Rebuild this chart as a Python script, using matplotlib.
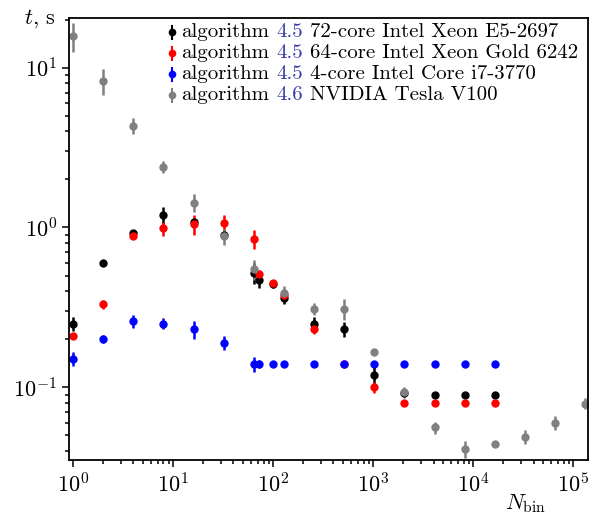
import numpy as np
import matplotlib
matplotlib.use("Agg")
import matplotlib.pyplot as plt
from matplotlib.lines import Line2D
from matplotlib.offsetbox import AnchoredOffsetbox, HPacker, VPacker, TextArea, DrawingArea

plt.rcParams['font.family'] = ['cmr10', 'DejaVu Serif']
plt.rcParams['mathtext.fontset'] = 'cm'
plt.rcParams['axes.formatter.use_mathtext'] = True

# data: bins vs time (s)
x_black = [1, 2, 4, 8, 16, 32, 64, 72, 100, 128, 256, 512, 1024, 2048, 4096, 8192, 16384]
t_black = [0.25, 0.6, 0.92, 1.2, 1.09, 0.9, 0.52, 0.47, 0.44, 0.36, 0.25, 0.23, 0.12, 0.092, 0.089, 0.089, 0.089]
e_black = [0.025, 0.03, 0.02, 0.15, 0.06, 0.04, 0.08, 0.05, 0.02, 0.03, 0.025, 0.025, 0.015, 0.004, 0.002, 0.002, 0.002]

x_red = [1, 2, 4, 8, 16, 32, 64, 72, 100, 128, 256, 512, 1024, 2048, 4096, 8192, 16384]
t_red = [0.21, 0.33, 0.88, 0.99, 1.05, 1.07, 0.85, 0.51, 0.45, 0.38, 0.23, 0.14, 0.1, 0.08, 0.08, 0.08, 0.08]
e_red = [0.01, 0.02, 0.03, 0.1, 0.15, 0.12, 0.12, 0.03, 0.02, 0.03, 0.015, 0.004, 0.008, 0.003, 0.003, 0.003, 0.003]

x_blue = [1, 2, 4, 8, 16, 32, 64, 72, 100, 128, 256, 512, 1024, 2048, 4096, 8192, 16384]
t_blue = [0.15, 0.2, 0.26, 0.25, 0.23, 0.19, 0.14, 0.14, 0.14, 0.14, 0.14, 0.14, 0.14, 0.14, 0.14, 0.14, 0.14]
e_blue = [0.015, 0.012, 0.025, 0.02, 0.03, 0.02, 0.015, 0.008, 0.003, 0.003, 0.003, 0.003, 0.003, 0.003, 0.003, 0.003, 0.003]

x_gray = [1, 2, 4, 8, 16, 32, 64, 128, 256, 512, 1024, 2048, 4096, 8192, 16384, 32768, 65536, 131072]
t_gray = [15.8, 8.3, 4.34, 2.4, 1.43, 0.88, 0.55, 0.39, 0.31, 0.31, 0.165, 0.093, 0.056, 0.041, 0.044, 0.049, 0.06, 0.079]
e_gray = [3.2, 1.5, 0.5, 0.2, 0.18, 0.1, 0.08, 0.04, 0.025, 0.045, 0.005, 0.008, 0.005, 0.005, 0.002, 0.005, 0.006, 0.006]

series = [
    (x_black, t_black, e_black, 'black', '4.5', '72-core Intel Xeon E5-2697'),
    (x_red, t_red, e_red, 'red', '4.5', '64-core Intel Xeon Gold 6242'),
    (x_blue, t_blue, e_blue, 'blue', '4.5', '4-core Intel Core i7-3770'),
    (x_gray, t_gray, e_gray, 'grey', '4.6', 'NVIDIA Tesla V100'),
]
num_color = '#3838a8'

fig = plt.figure(figsize=(5.9, 5.21), dpi=100)
ax = fig.add_axes([0.117, 0.117, 0.8796, 0.8485])

for xs, ts, es, c, ver, name in series:
    ax.errorbar(xs, ts, yerr=es, fmt='o', color=c, ms=5, elinewidth=1.8, capsize=0)

ax.set_xscale('log')
ax.set_yscale('log')
ax.set_xlim(0.91, 1.4e5)
ax.set_ylim(0.035, 20.5)

for s in ax.spines.values():
    s.set_linewidth(1.3)
ax.tick_params(which='both', direction='out', labelsize=16, width=1.1)
ax.tick_params(which='major', length=5)
ax.tick_params(which='minor', length=3)

fig.text(56 / 590, 1 - 24 / 521, r'$t$, s', fontsize=16, ha='right', va='baseline')
ax.text(0.879, -0.072, r'$N_{\rm bin}$', transform=ax.transAxes, fontsize=16, ha='center', va='top')

# legend with coloured version numbers
rows = []
for xs, ts, es, c, ver, name in series:
    da = DrawingArea(6, 10, 0, 0)
    da.add_artist(Line2D([3, 3], [0.5, 9.5], color=c, lw=1.5))
    da.add_artist(Line2D([3], [5], marker='o', ms=4.5, color=c))
    tp = dict(fontsize=15)
    words = HPacker(children=[TextArea('algorithm', textprops=dict(color='black', **tp)),
                              TextArea(ver, textprops=dict(color=num_color, **tp)),
                              TextArea(name, textprops=dict(color='black', **tp))],
                    sep=5, pad=0, align='baseline')
    rows.append(HPacker(children=[da, words], sep=4, pad=0, align='center'))
box = VPacker(children=rows, sep=2.2, pad=0, align='left')
anch = AnchoredOffsetbox(loc='upper right', child=box, frameon=False, pad=0, borderpad=0,
                         bbox_to_anchor=(0.981, 0.988), bbox_transform=ax.transAxes)
ax.add_artist(anch)

fig.savefig('out.png', dpi=100)
